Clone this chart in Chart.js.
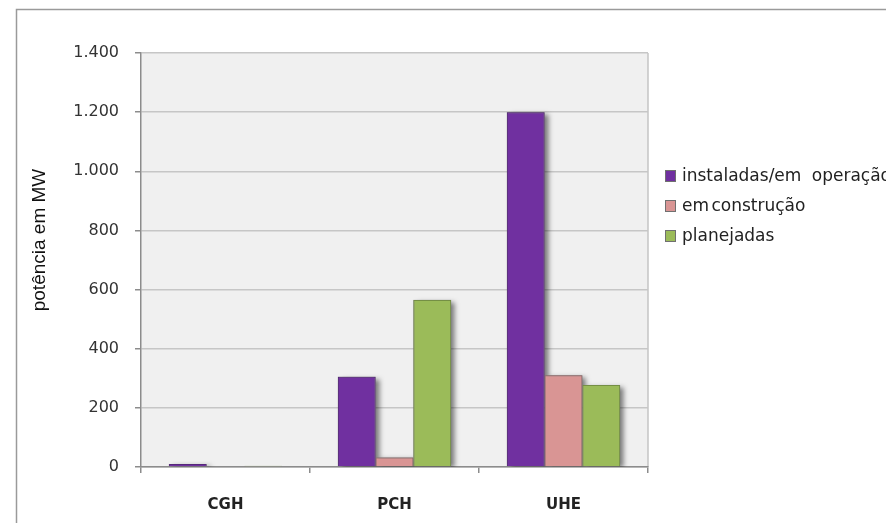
<!DOCTYPE html>
<html>
<head>
<meta charset="utf-8">
<script src="https://cdn.jsdelivr.net/npm/chart.js@4.4.1/dist/chart.umd.min.js"></script>
<style>
  html, body { margin: 0; padding: 0; background: #ffffff; }
  #wrap { position: relative; width: 886px; height: 523px; }
</style>
</head>
<body>
<div id="wrap"><canvas id="c" width="886" height="523"></canvas></div>
<script>
// Potência hidrelétrica por tipo de usina (MW)
const categories = ['CGH', 'PCH', 'UHE'];
const seriesNames = ['instaladas/em operação', 'em construção', 'planejadas'];
const instaladas = [10, 305, 1200];
const emConstrucao = [0, 32, 310];
const planejadas = [4, 565, 277];
const yTickLabels = ['0', '200', '400', '600', '800', '1.000', '1.200', '1.400'];
const yTitle = 'potência em MW';

const fills = ['#7030a0', '#d99594', '#9bbb59'];
const edges = ['#55287a', '#9a6a6a', '#758f45'];

const PLOT = { left: 141, right: 648, top: 53, bottom: 467 };

// outer frame, plot background, right border and axis title
const backdrop = {
  id: 'backdrop',
  beforeDraw(chart) {
    const ctx = chart.ctx;
    const a = chart.chartArea;
    ctx.save();
    ctx.fillStyle = '#ffffff';
    ctx.fillRect(0, 0, chart.width, chart.height);
    ctx.strokeStyle = '#9a9a9a';
    ctx.lineWidth = 1.5;
    ctx.beginPath();
    ctx.moveTo(16.5, chart.height);
    ctx.lineTo(16.5, 9.5);
    ctx.lineTo(chart.width, 9.5);
    ctx.stroke();
    ctx.fillStyle = '#f0f0f0';
    ctx.fillRect(a.left, a.top, a.right - a.left, a.bottom - a.top);
    ctx.strokeStyle = '#c4c4c4';
    ctx.lineWidth = 1.5;
    ctx.beginPath();
    ctx.moveTo(a.right, a.top);
    ctx.lineTo(a.right, a.bottom);
    ctx.stroke();

    ctx.translate(40, 240);
    ctx.rotate(-Math.PI / 2);
    ctx.font = '19px "Liberation Sans"';
    ctx.fillStyle = '#111111';
    ctx.textAlign = 'center';
    ctx.textBaseline = 'middle';
    ctx.fillText(yTitle, 0, 0);
    ctx.restore();
  }
};

// soft drop shadow under every bar, painted before the bars themselves
const barShadow = {
  id: 'barShadow',
  beforeDatasetsDraw(chart) {
    const ctx = chart.ctx;
    const a = chart.chartArea;
    ctx.save();
    ctx.beginPath();
    ctx.rect(a.left, a.top, a.right - a.left, a.bottom - a.top);
    ctx.clip();
    ctx.shadowColor = 'rgba(0,0,0,0.5)';
    ctx.shadowBlur = 5;
    ctx.shadowOffsetX = 4;
    ctx.shadowOffsetY = 2;
    ctx.fillStyle = '#808080';
    chart.data.datasets.forEach((ds, i) => {
      chart.getDatasetMeta(i).data.forEach(bar => {
        const p = bar.getProps(['x', 'y', 'base', 'width'], true);
        const h = p.base - p.y;
        if (h < 1) return;
        ctx.fillRect(p.x - p.width / 2, p.y, p.width, h);
      });
    });
    ctx.restore();
  }
};

// legend on the right side
const legendSpacing = ['5px', '-3px', '0px'];
const sideLegend = {
  id: 'sideLegend',
  afterDraw(chart) {
    const ctx = chart.ctx;
    ctx.save();
    ctx.font = '17px "DejaVu Sans"';
    ctx.textBaseline = 'middle';
    ctx.textAlign = 'left';
    const ys = [176, 206, 236];
    seriesNames.forEach((name, i) => {
      ctx.fillStyle = fills[i];
      ctx.fillRect(665, ys[i] - 6, 11, 12);
      ctx.strokeStyle = '#707070';
      ctx.lineWidth = 1;
      ctx.strokeRect(665.5, ys[i] - 5.5, 10, 11);
      ctx.fillStyle = '#222222';
      if ('wordSpacing' in ctx) ctx.wordSpacing = legendSpacing[i];
      ctx.fillText(name, 682, ys[i] + 1);
    });
    ctx.restore();
  }
};

const datasets = [instaladas, emConstrucao, planejadas].map((vals, i) => ({
  label: seriesNames[i],
  data: vals,
  backgroundColor: fills[i],
  borderColor: edges[i],
  borderWidth: 1,
  categoryPercentage: 0.67,
  barPercentage: 1.0
}));

new Chart(document.getElementById('c'), {
  type: 'bar',
  data: { labels: categories, datasets },
  options: {
    responsive: false,
    animation: false,
    layout: { padding: { left: 0, right: 886 - PLOT.right, top: PLOT.top, bottom: 0 } },
    plugins: {
      legend: { display: false },
      tooltip: { enabled: false }
    },
    scales: {
      x: {
        offset: true,
        grid: {
          offset: true,
          drawOnChartArea: false,
          drawTicks: true,
          tickLength: 6,
          color: '#8c8c8c',
          lineWidth: 1.5
        },
        border: { color: '#8c8c8c', width: 1.5 },
        ticks: {
          padding: 23,
          color: '#222222',
          font: { family: '"DejaVu Sans"', size: 15, weight: 'bold' }
        },
        afterFit(scale) { scale.height = 523 - PLOT.bottom; }
      },
      y: {
        min: 0,
        max: 1400,
        ticks: {
          stepSize: 200,
          padding: 16,
          color: '#333333',
          font: { family: '"DejaVu Sans"', size: 16 },
          callback: (v, i) => yTickLabels[i]
        },
        grid: {
          color: '#c6c6c6',
          lineWidth: 1.5,
          drawTicks: true,
          tickLength: 6,
          tickColor: '#8c8c8c'
        },
        border: { color: '#8c8c8c', width: 1.5 },
        afterFit(scale) { scale.width = PLOT.left; }
      }
    }
  },
  plugins: [backdrop, barShadow, sideLegend]
});
</script>
</body>
</html>
